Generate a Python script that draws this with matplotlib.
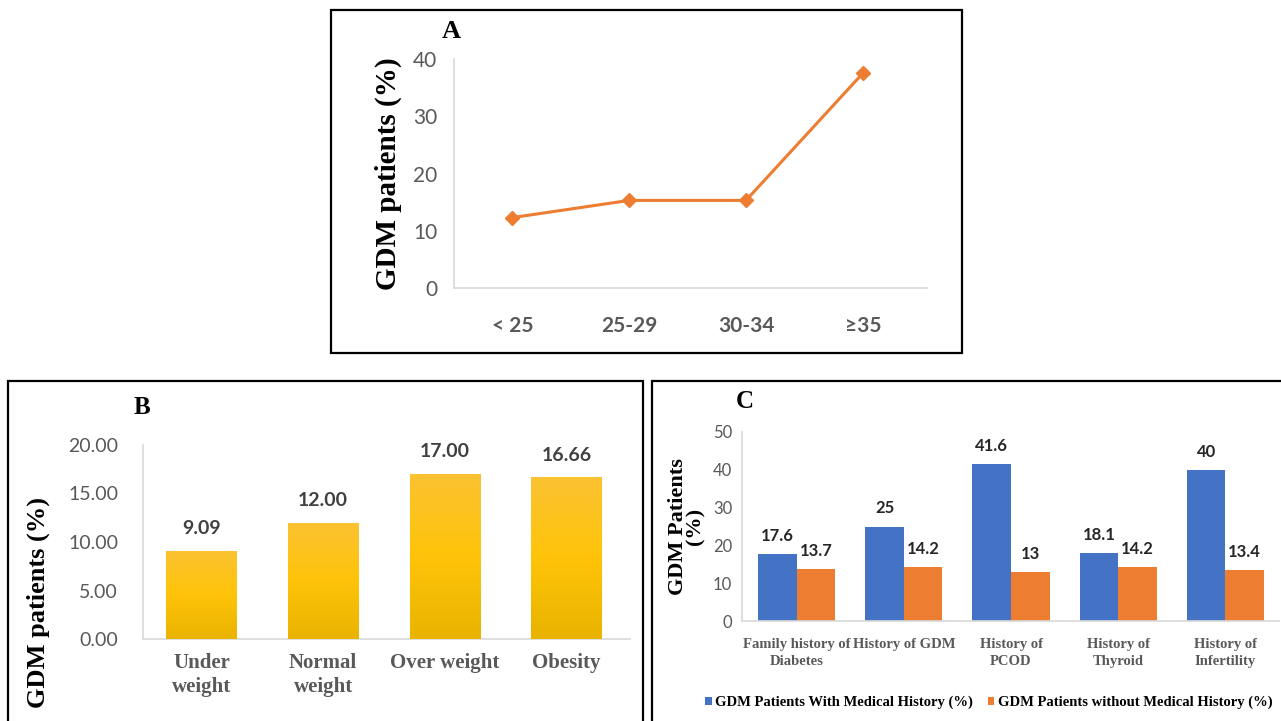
import matplotlib.pyplot as plt
import numpy as np
from matplotlib.patches import Rectangle
from matplotlib.colors import LinearSegmentedColormap

# panel A: age groups
age_groups = ["< 25", "25-29", "30-34", "\u226535"]
age_pct = [12.3, 15.3, 15.3, 37.5]

# panel B: BMI groups
bmi_groups = ["Under\nweight", "Normal\nweight", "Over weight", "Obesity"]
bmi_pct = [9.09, 12.00, 17.00, 16.66]

# panel C: medical history
hist_groups = ["Family history of\nDiabetes", "History of GDM", "History of\nPCOD",
               "History of\nThyroid", "History of\nInfertility"]
with_hist = [17.6, 25, 41.6, 18.1, 40]
without_hist = [13.7, 14.2, 13, 14.2, 13.4]
with_lbl = ["17.6", "25", "41.6", "18.1", "40"]
without_lbl = ["13.7", "14.2", "13", "14.2", "13.4"]

W, H = 1281, 721
SERIF = "Liberation Serif"
SANS = "Lato"
GRID = "#D9D9D9"
TICK = "#595959"

fig = plt.figure(figsize=(W / 100, H / 100), dpi=100)


def px_axes(x0, x1, y_top, y_bot):
    return fig.add_axes([x0 / W, 1 - y_bot / H, (x1 - x0) / W, (y_bot - y_top) / H])


def box(x0, x1, y_top, y_bot):
    fig.patches.append(Rectangle((x0 / W, 1 - y_bot / H), (x1 - x0) / W, (y_bot - y_top) / H,
                                 transform=fig.transFigure, fill=False, ec="black", lw=1.6,
                                 clip_on=False))


def excel_style(ax, tick_size):
    for s in ["top", "right"]:
        ax.spines[s].set_visible(False)
    for s in ["left", "bottom"]:
        ax.spines[s].set_color(GRID)
        ax.spines[s].set_linewidth(1.2)
    ax.tick_params(length=0, colors=TICK)
    for t in ax.get_yticklabels():
        t.set_family(SANS)
        t.set_fontsize(tick_size)


# frames round the panels
box(331, 962, 10, 353)
box(8, 643, 381, 760)
box(652, 1300, 381, 760)

# ---- A ----
axA = px_axes(454, 927, 59, 288)
x = np.arange(len(age_groups))
axA.plot(x, age_pct, color="#ED7D31", lw=2.2, marker="D", ms=7)
axA.set_xlim(-0.5, 3.55)
axA.set_ylim(0, 40)
axA.set_yticks([0, 10, 20, 30, 40])
axA.set_xticks(x)
axA.set_xticklabels(age_groups, fontsize=15, fontweight="bold", family=SANS, color="#404040")
excel_style(axA, 15)
axA.tick_params(axis="x", pad=20)
axA.tick_params(axis="y", pad=12)
axA.set_ylabel("GDM patients (%)", family=SERIF, fontweight="bold", fontsize=21, labelpad=8)
fig.text(451 / W, 1 - 32 / H, "A", family=SERIF, fontweight="bold", fontsize=19,
         ha="center", va="center")

# ---- B ----
axB = px_axes(143, 630, 445, 639)
xb = np.arange(len(bmi_groups))
bars = axB.bar(xb, bmi_pct, width=0.58, color="#FFC000", zorder=2)
gold = LinearSegmentedColormap.from_list("gold", ["#E9B300", "#FFC409", "#FBC232"])
grad = np.linspace(0, 1, 256).reshape(-1, 1)
for b in bars:
    bx, by = b.get_x(), b.get_y()
    im = axB.imshow(grad, cmap=gold, origin="lower", aspect="auto", zorder=3,
                    extent=[bx, bx + b.get_width(), by, by + b.get_height()])
    im.set_clip_path(b)
for xi, v in zip(xb, bmi_pct):
    axB.annotate(f"{v:.2f}", (xi, v), xytext=(0, 16), textcoords="offset points",
                 ha="center", va="center", family=SANS, fontweight="bold", fontsize=14,
                 color="#404040")
axB.set_xlim(-0.48, 3.52)
axB.set_ylim(0, 20)
axB.set_yticks([0, 5, 10, 15, 20])
axB.set_yticklabels([f"{t:.2f}" for t in [0, 5, 10, 15, 20]])
axB.set_xticks(xb)
axB.set_xticklabels(bmi_groups, family=SERIF, fontweight="bold", fontsize=15, color="#262626",
                    linespacing=1.3)
excel_style(axB, 14)
axB.tick_params(axis="y", pad=18)
axB.tick_params(axis="x", pad=10)
axB.set_ylabel("GDM patients (%)", family=SERIF, fontweight="bold", fontsize=19)
axB.yaxis.set_label_coords(-0.19, 0.19)
fig.text(142 / W, 1 - 408 / H, "B", family=SERIF, fontweight="bold", fontsize=18,
         ha="center", va="center")

# ---- C ----
axC = px_axes(742, 1279, 432, 621)
xc = np.arange(len(hist_groups))
bw = 0.36
b1 = axC.bar(xc - bw / 2, with_hist, bw, color="#4472C4",
             label="GDM Patients With Medical History (%)")
b2 = axC.bar(xc + bw / 2, without_hist, bw, color="#ED7D31",
             label="GDM Patients without Medical History (%)")
for bars_c, labels in [(b1, with_lbl), (b2, without_lbl)]:
    for bb, lab in zip(bars_c, labels):
        axC.annotate(lab, (bb.get_x() + bb.get_width() / 2, bb.get_height()),
                     xytext=(0, 13), textcoords="offset points", ha="center", va="center",
                     family=SANS, fontweight="bold", fontsize=12, color="#262626")
axC.set_xlim(-0.51, 4.5)
axC.set_ylim(0, 50)
axC.set_yticks([0, 10, 20, 30, 40, 50])
axC.set_xticks(xc)
axC.set_xticklabels(hist_groups, family=SERIF, fontweight="bold", fontsize=10.5,
                    color="#262626", linespacing=1.45)
excel_style(axC, 12)
axC.tick_params(axis="y", pad=7)
axC.tick_params(axis="x", pad=12)
axC.set_ylabel("GDM Patients\n(%)", family=SERIF, fontweight="bold", fontsize=16,
               linespacing=0.85)
axC.yaxis.set_label_coords(-0.068, 0.5)
axC.legend(loc="center", bbox_to_anchor=(0.46, -0.43), ncol=2, frameon=False,
           prop={"family": SERIF, "weight": "bold", "size": 10.5},
           handlelength=0.45, handleheight=0.45, handletextpad=0.25, columnspacing=1.0)
fig.text(745 / W, 1 - 402 / H, "C", family=SERIF, fontweight="bold", fontsize=18,
         ha="center", va="center")

fig.savefig("out.png", dpi=100)
